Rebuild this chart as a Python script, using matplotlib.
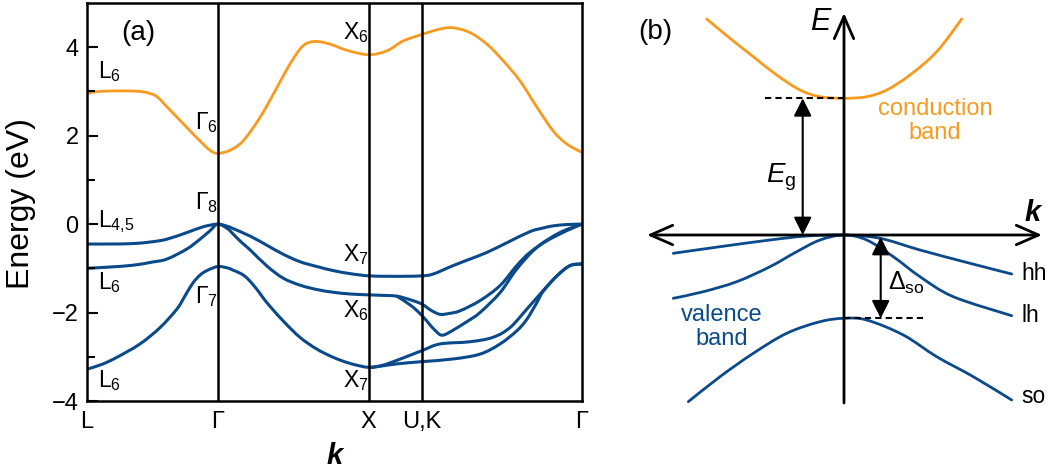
import numpy as np
import matplotlib
matplotlib.use('Agg')
import matplotlib.pyplot as plt
from matplotlib.path import Path
from matplotlib.patches import PathPatch

plt.rcParams['font.family'] = ['Liberation Sans', 'DejaVu Sans']
plt.rcParams['mathtext.fontset'] = 'custom'
plt.rcParams['mathtext.rm'] = 'Liberation Sans'
plt.rcParams['mathtext.it'] = 'Liberation Sans:italic'
plt.rcParams['mathtext.bf'] = 'Liberation Sans:bold'

ORANGE = '#F79A1E'
BLUE = '#0A4A8A'

# ---- panel (a): band structure, k in units of 2pi/a ----
k_points = [0, 0.866, 1.866, 2.220, 3.280]
k_labels = ['L', 'Γ', 'X', 'U,K', 'Γ']

cb_k = [0, 0.05, 0.152, 0.30, 0.371, 0.41, 0.464, 0.550, 0.663, 0.749, 0.815,
        0.866, 0.948, 1.034, 1.146, 1.259, 1.345, 1.431, 1.511, 1.610,
        1.723, 1.866, 1.988, 2.094, 2.220, 2.339, 2.425, 2.538, 2.650, 2.756,
        2.869, 2.982, 3.088, 3.180, 3.280]
cb_E = [2.95, 2.99, 3.01, 3.01, 2.99, 2.96, 2.88, 2.58, 2.18, 1.88, 1.67,
        1.60, 1.67, 1.88, 2.41, 3.09, 3.62, 4.03, 4.13, 4.07,
        3.93, 3.83, 3.92, 4.14, 4.29, 4.41, 4.44, 4.33, 4.07, 3.70,
        3.24, 2.64, 2.11, 1.81, 1.62]

# L4,5 -> G8 -> X7 -> G8
vb1_k = [0, 0.152, 0.305, 0.43, 0.53, 0.663, 0.77, 0.866, 0.93, 0.967, 1.080,
         1.193, 1.299, 1.411, 1.524, 1.630, 1.743, 1.866, 2.0, 2.1, 2.220,
         2.293, 2.425, 2.538, 2.650, 2.783, 2.935, 3.02, 3.088, 3.18, 3.280]
vb1_E = [-0.45, -0.45, -0.44, -0.40, -0.34, -0.19, -0.06, 0, -0.05, -0.1, -0.27,
         -0.48, -0.68, -0.85, -0.96, -1.05, -1.12, -1.17, -1.18, -1.18, -1.17,
         -1.13, -0.94, -0.79, -0.64, -0.42, -0.17, -0.09, -0.04, -0.01, 0]

# L6 -> G8 -> X6 -> upper branch -> G8
vb2_k = [0, 0.152, 0.305, 0.43, 0.53, 0.663, 0.749, 0.815, 0.866, 0.93, 0.967,
         1.02, 1.080, 1.193, 1.299, 1.411, 1.524, 1.630, 1.743, 1.866, 1.95,
         2.054, 2.15, 2.220, 2.28, 2.339, 2.40, 2.472, 2.604, 2.737, 2.847,
         2.935, 3.046, 3.178, 3.280]
vb2_E = [-1.0, -0.97, -0.93, -0.86, -0.79, -0.56, -0.34, -0.15, 0, -0.1, -0.22,
         -0.40, -0.58, -0.95, -1.22, -1.38, -1.48, -1.54, -1.58, -1.60, -1.61,
         -1.63, -1.72, -1.81, -1.95, -2.04, -2.02, -1.96, -1.73, -1.39, -0.94,
         -0.64, -0.38, -0.15, 0]

# X6 lower branch
vb3_k = [2.054, 2.15, 2.220, 2.273, 2.30, 2.339, 2.37, 2.425, 2.52, 2.604,
         2.737, 2.847, 2.980, 3.134, 3.280]
vb3_E = [-1.63, -1.85, -2.07, -2.28, -2.38, -2.50, -2.50, -2.40, -2.2, -2.0,
         -1.55, -1.02, -0.53, -0.19, 0]

# L6 -> G7 -> X7 -> upper branch -> G7
vb4_k = [0, 0.1, 0.199, 0.351, 0.484, 0.596, 0.65, 0.702, 0.75, 0.795, 0.866,
         0.93, 0.967, 1.02, 1.06, 1.12, 1.193, 1.30, 1.411, 1.52, 1.630, 1.743,
         1.866, 1.95, 2.054, 2.220, 2.339, 2.538, 2.690, 2.803, 2.915, 3.021,
         3.114, 3.200, 3.280]
vb4_E = [-3.28, -3.17, -3.01, -2.71, -2.34, -1.92, -1.62, -1.33, -1.15, -1.05, -0.96,
         -0.99, -1.04, -1.12, -1.22, -1.45, -1.78, -2.19, -2.56, -2.82, -3.01, -3.15,
         -3.24, -3.20, -3.08, -2.86, -2.71, -2.66, -2.56, -2.34, -1.92, -1.51,
         -1.17, -0.94, -0.90]

# X7 lower branch
vb5_k = [1.866, 1.95, 2.054, 2.220, 2.425, 2.604, 2.737, 2.849, 2.915, 2.98,
         3.021, 3.114, 3.200, 3.280]
vb5_E = [-3.24, -3.21, -3.16, -3.11, -3.05, -2.94, -2.71, -2.41, -2.15, -1.78,
         -1.53, -1.17, -0.94, -0.90]

# state labels: (text, k, E at baseline)
state_labels = [
    (r'L$_{\mathrm{6}}$', 0.073, 3.31),
    (r'Γ$_{\mathrm{6}}$', 0.716, 2.15),
    (r'Γ$_{\mathrm{8}}$', 0.716, 0.34),
    (r'L$_{\mathrm{4{,}5}}$', 0.073, -0.06),
    (r'L$_{\mathrm{6}}$', 0.073, -1.47),
    (r'Γ$_{\mathrm{7}}$', 0.716, -1.79),
    (r'L$_{\mathrm{6}}$', 0.073, -3.69),
    (r'X$_{\mathrm{6}}$', 1.696, 4.18),
    (r'X$_{\mathrm{7}}$', 1.696, -0.83),
    (r'X$_{\mathrm{6}}$', 1.696, -2.11),
    (r'X$_{\mathrm{7}}$', 1.696, -3.69),
]

# ---- panel (b): schematic bands near k = 0 ----
cbs_k = [-1.373, -1.14, -0.907, -0.673, -0.44, -0.24, 0, 0.227, 0.427, 0.66, 0.927, 1.177]
cbs_E = [2.16, 1.967, 1.783, 1.60, 1.45, 1.383, 1.367, 1.383, 1.45, 1.60, 1.833, 2.16]

hh_k = [-1.707, -1.24, -0.74, -0.373, 0, 0.36, 0.76, 1.26, 1.677]
hh_E = [-0.183, -0.117, -0.05, -0.01, 0, -0.033, -0.15, -0.283, -0.39]

lh_k = [-1.707, -1.407, -1.073, -0.74, -0.473, -0.24, 0, 0.227, 0.493, 0.76, 1.093, 1.677]
lh_E = [-0.633, -0.567, -0.467, -0.317, -0.167, -0.05, 0, -0.05, -0.217, -0.417, -0.617, -0.807]

so_k = [-1.557, -1.24, -0.907, -0.573, -0.24, 0, 0.227, 0.593, 0.927, 1.293, 1.677]
so_E = [-1.667, -1.417, -1.183, -0.983, -0.867, -0.833, -0.85, -1.0, -1.217, -1.417, -1.65]

E_gap = 1.367
E_so = -0.833


def smooth_line(ax, xs, ys, **kw):
    # draw a curve through the points as a Catmull-Rom style bezier path
    pts = np.column_stack([xs, ys]).astype(float)
    n = len(pts)
    verts = [pts[0]]
    codes = [Path.MOVETO]
    for i in range(n - 1):
        p0 = pts[i - 1] if i > 0 else pts[i]
        p1 = pts[i]
        p2 = pts[i + 1]
        p3 = pts[i + 2] if i + 2 < n else pts[i + 1]
        verts += [p1 + (p2 - p0) / 6, p2 - (p3 - p1) / 6, p2]
        codes += [Path.CURVE4] * 3
    ax.add_patch(PathPatch(Path(verts, codes), fill=False, capstyle='round',
                           joinstyle='round', **kw))


fig = plt.figure(figsize=(10.48, 4.76), dpi=100)

# panel (a)
ax = fig.add_axes([87/1048, 75/476, 495/1048, 398/476])
smooth_line(ax, cb_k, cb_E, edgecolor=ORANGE, lw=2.0)
for kk, ee in [(vb1_k, vb1_E), (vb2_k, vb2_E), (vb3_k, vb3_E),
               (vb4_k, vb4_E), (vb5_k, vb5_E)]:
    smooth_line(ax, kk, ee, edgecolor=BLUE, lw=2.2)
for kp in k_points[1:-1]:
    ax.axvline(kp, color='black', lw=1.8, zorder=3)

ax.set_xlim(k_points[0], k_points[-1])
ax.set_ylim(-4, 5)
ax.set_xticks(k_points)
ax.set_xticklabels(k_labels)
ax.set_yticks([-4, -2, 0, 2, 4])
ax.set_yticklabels(['\u22124', '\u22122', '0', '2', '4'])
ax.set_yticks([-3, -1, 1, 3], minor=True)
ax.tick_params(axis='y', which='major', direction='in', length=8, width=1.5,
               labelsize=17, pad=6)
ax.tick_params(axis='y', which='minor', direction='in', length=5.5, width=1.5)
ax.tick_params(axis='x', length=0, labelsize=17, pad=7)
for sp in ax.spines.values():
    sp.set_linewidth(1.8)

for txt, kx, ey in state_labels:
    ax.text(kx, ey, txt, fontsize=16.5, ha='left', va='baseline')
ax.text(0.338, 4.32, '(a)', fontsize=20, ha='center', va='center')

fig.text(21/1048, 1 - 204/476, 'Energy (eV)', rotation=90, fontsize=23,
         ha='center', va='center')
fig.text(335/1048, 1 - 456/476, 'k', fontsize=21, fontweight='bold',
         fontstyle='italic', ha='center', va='center')

# panel (b)
bx = fig.add_axes([620/1048, 0, 428/1048, 1])
bx.set_xlim(-2.24, 2.04)
bx.set_ylim(-2.41, 2.35)
bx.axis('off')

smooth_line(bx, cbs_k, cbs_E, edgecolor=ORANGE, lw=2.0)
smooth_line(bx, hh_k, hh_E, edgecolor=BLUE, lw=2.0)
smooth_line(bx, lh_k, lh_E, edgecolor=BLUE, lw=2.0)
smooth_line(bx, so_k, so_E, edgecolor=BLUE, lw=2.0)

bx.plot([-0.79, 0], [E_gap, E_gap], color='black', lw=1.5, ls=(0, (3, 2)))
bx.plot([0, 0.79], [E_so, E_so], color='black', lw=1.5, ls=(0, (3, 2)))

bx.annotate('', xy=(1.98, 0), xytext=(-1.97, 0),
            arrowprops=dict(arrowstyle='<->,head_length=0.8,head_width=0.35',
                            lw=2.0, color='black', shrinkA=0, shrinkB=0,
                            mutation_scale=20))
bx.annotate('', xy=(0, 2.22), xytext=(0, -1.68),
            arrowprops=dict(arrowstyle='->,head_length=0.8,head_width=0.35',
                            lw=2.0, color='black', shrinkA=0, shrinkB=0,
                            mutation_scale=20))
bx.annotate('', xy=(-0.413, E_gap), xytext=(-0.413, 0),
            arrowprops=dict(arrowstyle='<|-|>,head_length=0.6,head_width=0.3',
                            lw=1.5, color='black', shrinkA=0, shrinkB=0,
                            mutation_scale=18))
bx.annotate('', xy=(0.367, E_so), xytext=(0.367, -0.02),
            arrowprops=dict(arrowstyle='<|-|>,head_length=0.6,head_width=0.3',
                            lw=1.5, color='black', shrinkA=0, shrinkB=0,
                            mutation_scale=18))

bx.text(-1.89, 2.03, '(b)', fontsize=20, ha='center', va='center')
bx.text(-0.24, 2.13, 'E', fontsize=22, fontstyle='italic', ha='center', va='center')
bx.text(1.89, 0.22, 'k', fontsize=21, fontweight='bold', fontstyle='italic',
        ha='center', va='center')
bx.text(0.91, 1.14, 'conduction\nband', color=ORANGE, fontsize=17,
        ha='center', va='center', linespacing=1.1)
bx.text(-1.223, -0.917, 'valence\nband', color=BLUE, fontsize=17,
        ha='center', va='center', linespacing=1.1)
bx.text(-0.63, 0.58, r'$E_{\mathrm{g}}$', fontsize=20, ha='center', va='center')
bx.text(0.62, -0.48, r'Δ$_{\mathrm{so}}$', fontsize=18, ha='center', va='center')
bx.text(1.777, -0.383, 'hh', fontsize=16.5, ha='left', va='center')
bx.text(1.777, -0.80, 'lh', fontsize=16.5, ha='left', va='center')
bx.text(1.777, -1.617, 'so', fontsize=16.5, ha='left', va='center')

fig.savefig('out.png', dpi=100)
